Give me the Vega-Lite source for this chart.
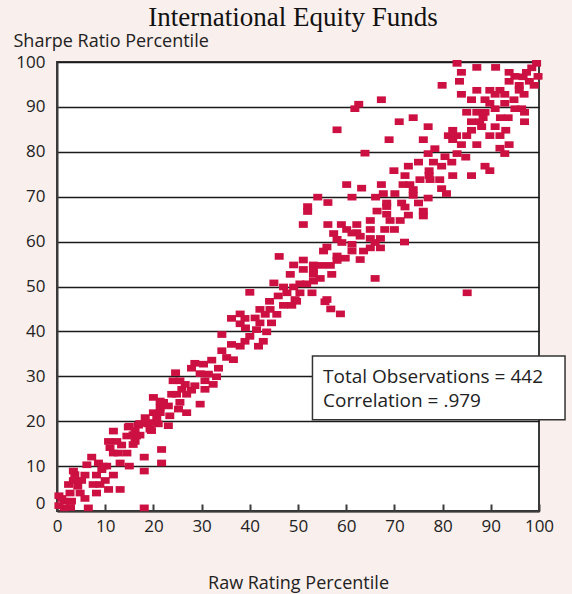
{
 "$schema": "https://vega.github.io/schema/vega-lite/v6.json",
 "width": 482,
 "height": 449,
 "autosize": {"type": "none"},
 "padding": {"left": 57, "top": 62, "right": 33, "bottom": 83},
 "background": "#f9efec",
 "config": {"view": {"fill": "white", "stroke": "#3a3a3a", "strokeWidth": 2}, "font": "Open Sans"},
 "title": {"text": "International Equity Funds", "font": "Liberation Serif", "fontSize": 27, "fontWeight": "normal", "color": "#111", "anchor": "middle", "frame": "group", "dx": -5, "dy": 32, "baseline": "alphabetic", "offset": 11},
 "datasets": {
  "funds": [
   {"raw":1.5,"sharpe":0.7},{"raw":1.5,"sharpe":2.2},{"raw":1.0,"sharpe":2.8},{"raw":3.0,"sharpe":2.2},{"raw":6.5,"sharpe":0.7},{"raw":18.1,"sharpe":0.7},{"raw":5.8,"sharpe":2.8},{"raw":2.7,"sharpe":4.0},{"raw":4.8,"sharpe":4.0},{"raw":8.2,"sharpe":4.0},{"raw":10.7,"sharpe":4.8},{"raw":13.1,"sharpe":4.8},{"raw":4.3,"sharpe":5.5},{"raw":2.4,"sharpe":5.9},{"raw":7.5,"sharpe":5.9},{"raw":8.9,"sharpe":5.9},{"raw":10.0,"sharpe":6.8},{"raw":3.4,"sharpe":6.8},{"raw":5.1,"sharpe":6.8},{"raw":3.7,"sharpe":8.1},{"raw":5.8,"sharpe":8.0},{"raw":8.2,"sharpe":8.0},{"raw":11.7,"sharpe":8.0},{"raw":3.4,"sharpe":8.9},{"raw":9.3,"sharpe":9.2},{"raw":9.6,"sharpe":10.0},{"raw":6.2,"sharpe":10.3},{"raw":8.6,"sharpe":10.7},{"raw":10.3,"sharpe":10.0},{"raw":7.2,"sharpe":12.0},{"raw":13.1,"sharpe":10.7},{"raw":15.0,"sharpe":10.0},{"raw":18.1,"sharpe":8.9},{"raw":18.1,"sharpe":12.0},{"raw":21.7,"sharpe":10.7},{"raw":21.7,"sharpe":13.7},{"raw":11.7,"sharpe":12.9},{"raw":12.7,"sharpe":12.9},{"raw":14.5,"sharpe":12.9},{"raw":11.0,"sharpe":14.1},{"raw":13.4,"sharpe":14.7},{"raw":15.8,"sharpe":14.8},{"raw":10.7,"sharpe":15.5},{"raw":12.4,"sharpe":15.5},{"raw":14.5,"sharpe":16.7},{"raw":16.2,"sharpe":15.5},{"raw":11.7,"sharpe":17.8},{"raw":15.8,"sharpe":17.0},{"raw":17.2,"sharpe":16.9},{"raw":15.0,"sharpe":18.9},{"raw":16.9,"sharpe":19.1},{"raw":18.9,"sharpe":19.4},{"raw":19.6,"sharpe":17.9},{"raw":21.0,"sharpe":19.4},{"raw":0.4,"sharpe":1.2},{"raw":0.4,"sharpe":3.4},{"raw":2.8,"sharpe":0.8},
   {"raw":16.5,"sharpe":16.7},{"raw":14.8,"sharpe":18.7},{"raw":17.2,"sharpe":19.5},{"raw":16.2,"sharpe":17.9},{"raw":19.3,"sharpe":18.2},{"raw":19.6,"sharpe":19.7},{"raw":18.3,"sharpe":20.8},{"raw":20.7,"sharpe":20.8},{"raw":23.1,"sharpe":19.0},{"raw":20.0,"sharpe":21.9},{"raw":21.4,"sharpe":21.9},{"raw":23.4,"sharpe":21.2},{"raw":25.2,"sharpe":22.7},{"raw":26.9,"sharpe":21.9},{"raw":21.4,"sharpe":23.1},{"raw":23.1,"sharpe":23.4},{"raw":20.0,"sharpe":25.3},{"raw":21.4,"sharpe":24.5},{"raw":22.1,"sharpe":24.2},{"raw":25.5,"sharpe":24.2},{"raw":29.7,"sharpe":23.8},{"raw":23.8,"sharpe":26.0},{"raw":24.8,"sharpe":26.0},{"raw":26.9,"sharpe":26.0},{"raw":25.9,"sharpe":27.1},{"raw":27.9,"sharpe":26.9},{"raw":26.6,"sharpe":28.2},{"raw":28.6,"sharpe":27.9},{"raw":24.1,"sharpe":29.0},{"raw":25.5,"sharpe":29.0},{"raw":24.6,"sharpe":30.8},{"raw":30.7,"sharpe":27.1},{"raw":30.7,"sharpe":29.0},{"raw":32.4,"sharpe":28.2},{"raw":29.7,"sharpe":30.6},{"raw":31.4,"sharpe":30.5},{"raw":33.1,"sharpe":29.9},{"raw":28.6,"sharpe":32.9},{"raw":30.4,"sharpe":32.7},{"raw":32.1,"sharpe":33.6},{"raw":27.9,"sharpe":31.8},{"raw":33.5,"sharpe":31.8},{"raw":34.2,"sharpe":35.7},{"raw":35.2,"sharpe":34.2},
   {"raw":46.1,"sharpe":56.7},{"raw":45.0,"sharpe":50.8},{"raw":45.9,"sharpe":47.9},{"raw":40.0,"sharpe":48.7},{"raw":44.1,"sharpe":46.7},{"raw":47.0,"sharpe":45.8},{"raw":48.7,"sharpe":45.8},{"raw":49.7,"sharpe":46.7},{"raw":42.1,"sharpe":44.9},{"raw":44.2,"sharpe":44.9},{"raw":45.6,"sharpe":43.8},{"raw":43.2,"sharpe":43.8},{"raw":41.1,"sharpe":43.0},{"raw":38.0,"sharpe":43.9},{"raw":36.2,"sharpe":42.9},{"raw":39.0,"sharpe":42.9},{"raw":38.0,"sharpe":41.7},{"raw":42.1,"sharpe":41.9},{"raw":44.5,"sharpe":41.9},{"raw":39.1,"sharpe":40.8},{"raw":41.4,"sharpe":40.4},{"raw":43.5,"sharpe":39.9},{"raw":34.2,"sharpe":39.3},{"raw":40.0,"sharpe":38.9},{"raw":42.8,"sharpe":37.8},{"raw":39.0,"sharpe":37.8},{"raw":38.0,"sharpe":36.7},{"raw":36.2,"sharpe":37.1},{"raw":41.8,"sharpe":36.7},{"raw":36.6,"sharpe":33.7},
   {"raw":63.9,"sharpe":79.7},{"raw":60.1,"sharpe":72.7},{"raw":63.2,"sharpe":71.9},{"raw":54.1,"sharpe":69.9},{"raw":56.2,"sharpe":68.7},{"raw":61.2,"sharpe":69.9},{"raw":66.1,"sharpe":69.9},{"raw":52.0,"sharpe":67.8},{"raw":52.0,"sharpe":66.7},{"raw":68.4,"sharpe":67.8},{"raw":66.4,"sharpe":66.8},{"raw":68.4,"sharpe":66.1},{"raw":72.2,"sharpe":67.7},{"raw":76.0,"sharpe":66.8},{"raw":76.0,"sharpe":65.7},{"raw":72.9,"sharpe":65.9},{"raw":69.1,"sharpe":64.7},{"raw":71.2,"sharpe":64.7},{"raw":65.0,"sharpe":64.7},{"raw":51.1,"sharpe":63.8},{"raw":56.2,"sharpe":63.8},{"raw":59.0,"sharpe":63.8},{"raw":62.2,"sharpe":63.8},{"raw":57.4,"sharpe":61.8},{"raw":60.1,"sharpe":62.7},{"raw":62.2,"sharpe":62.0},{"raw":61.2,"sharpe":61.9},{"raw":62.9,"sharpe":61.2},{"raw":65.0,"sharpe":62.7},{"raw":68.0,"sharpe":62.7},{"raw":70.0,"sharpe":62.7},{"raw":58.1,"sharpe":60.5},{"raw":59.1,"sharpe":59.8},{"raw":65.0,"sharpe":60.7},{"raw":67.1,"sharpe":60.7},{"raw":66.0,"sharpe":59.8},{"raw":72.1,"sharpe":59.9},{"raw":61.2,"sharpe":59.4},{"raw":56.0,"sharpe":58.8},{"raw":55.3,"sharpe":57.9},{"raw":61.2,"sharpe":57.9},{"raw":63.6,"sharpe":57.9},{"raw":65.0,"sharpe":58.6},{"raw":67.1,"sharpe":58.6},{"raw":58.1,"sharpe":56.8},{"raw":59.8,"sharpe":56.3},{"raw":58.1,"sharpe":55.8},{"raw":62.9,"sharpe":56.0},{"raw":51.1,"sharpe":55.9},{"raw":49.1,"sharpe":54.8},{"raw":53.2,"sharpe":54.8},{"raw":54.9,"sharpe":54.7},{"raw":56.7,"sharpe":54.7},{"raw":51.1,"sharpe":53.8},{"raw":53.2,"sharpe":53.8},{"raw":48.4,"sharpe":52.7},{"raw":57.0,"sharpe":52.7},{"raw":53.2,"sharpe":52.7},{"raw":54.6,"sharpe":51.8},{"raw":66.0,"sharpe":51.8},{"raw":53.2,"sharpe":51.2},{"raw":50.4,"sharpe":50.6},{"raw":51.8,"sharpe":50.6},{"raw":47.0,"sharpe":49.9},{"raw":49.1,"sharpe":49.9},{"raw":47.7,"sharpe":48.6},{"raw":50.4,"sharpe":48.6},{"raw":52.9,"sharpe":48.6},{"raw":49.4,"sharpe":47.1},{"raw":56.0,"sharpe":47.1},
   {"raw":83.0,"sharpe":99.7},{"raw":87.1,"sharpe":98.8},{"raw":91.0,"sharpe":98.8},{"raw":99.5,"sharpe":99.7},{"raw":98.5,"sharpe":98.7},{"raw":83.9,"sharpe":97.7},{"raw":93.8,"sharpe":97.7},{"raw":95.0,"sharpe":96.8},{"raw":97.4,"sharpe":97.7},{"raw":99.8,"sharpe":96.8},{"raw":96.7,"sharpe":96.7},{"raw":83.5,"sharpe":95.7},{"raw":93.8,"sharpe":95.7},{"raw":98.0,"sharpe":95.7},{"raw":79.9,"sharpe":94.8},{"raw":95.9,"sharpe":94.8},{"raw":99.0,"sharpe":94.8},{"raw":87.1,"sharpe":93.7},{"raw":89.8,"sharpe":93.7},{"raw":91.9,"sharpe":93.7},{"raw":95.9,"sharpe":93.7},{"raw":83.9,"sharpe":92.8},{"raw":90.9,"sharpe":92.8},{"raw":92.9,"sharpe":92.8},{"raw":96.9,"sharpe":92.8},{"raw":86.0,"sharpe":91.6},{"raw":88.8,"sharpe":91.6},{"raw":94.8,"sharpe":91.6},{"raw":67.3,"sharpe":91.6},{"raw":89.8,"sharpe":90.8},{"raw":92.9,"sharpe":90.8},{"raw":90.9,"sharpe":89.6},{"raw":95.0,"sharpe":89.6},{"raw":96.4,"sharpe":89.6},{"raw":85.0,"sharpe":88.8},{"raw":87.1,"sharpe":88.8},{"raw":88.8,"sharpe":88.8},{"raw":97.0,"sharpe":88.8},{"raw":73.9,"sharpe":87.6},{"raw":71.0,"sharpe":86.7},{"raw":88.4,"sharpe":87.6},{"raw":92.0,"sharpe":87.6},{"raw":93.6,"sharpe":87.6},{"raw":86.0,"sharpe":86.7},{"raw":87.7,"sharpe":86.7},{"raw":97.0,"sharpe":86.7},{"raw":77.0,"sharpe":85.6},{"raw":88.1,"sharpe":85.6},{"raw":90.9,"sharpe":85.6},{"raw":82.1,"sharpe":84.8},{"raw":86.0,"sharpe":84.8},{"raw":93.1,"sharpe":84.8},{"raw":81.2,"sharpe":83.6},{"raw":82.9,"sharpe":83.6},{"raw":85.0,"sharpe":83.6},{"raw":89.8,"sharpe":83.6},{"raw":91.9,"sharpe":83.6},{"raw":68.9,"sharpe":82.7},{"raw":76.0,"sharpe":82.7},{"raw":82.1,"sharpe":82.7},{"raw":83.9,"sharpe":81.6},{"raw":87.1,"sharpe":81.6},{"raw":93.8,"sharpe":81.6},{"raw":91.9,"sharpe":80.8},{"raw":78.4,"sharpe":80.7},{"raw":77.0,"sharpe":79.6},{"raw":83.0,"sharpe":79.6},{"raw":92.9,"sharpe":79.6},{"raw":80.5,"sharpe":78.9},{"raw":84.8,"sharpe":78.8},{"raw":75.0,"sharpe":77.7},{"raw":78.1,"sharpe":77.7},{"raw":81.9,"sharpe":77.7},{"raw":72.9,"sharpe":76.8},{"raw":79.8,"sharpe":76.8},{"raw":88.8,"sharpe":76.8},{"raw":89.8,"sharpe":75.8},{"raw":69.9,"sharpe":75.8},{"raw":77.2,"sharpe":75.8},{"raw":72.2,"sharpe":74.7},{"raw":77.2,"sharpe":74.7},{"raw":82.1,"sharpe":74.7},{"raw":86.0,"sharpe":74.7},{"raw":75.3,"sharpe":73.8},{"raw":77.4,"sharpe":73.8},{"raw":79.4,"sharpe":73.8},{"raw":67.3,"sharpe":72.7},{"raw":71.8,"sharpe":72.7},{"raw":73.2,"sharpe":72.7},{"raw":79.8,"sharpe":71.8},{"raw":67.7,"sharpe":70.7},{"raw":70.1,"sharpe":70.7},{"raw":73.9,"sharpe":71.6},{"raw":73.9,"sharpe":70.3},{"raw":80.8,"sharpe":70.7},{"raw":77.0,"sharpe":69.7},{"raw":68.4,"sharpe":68.6},{"raw":71.5,"sharpe":68.6},{"raw":75.0,"sharpe":68.6},
   {"raw":85.1,"sharpe":48.6},{"raw":55.6,"sharpe":46.6},{"raw":56.8,"sharpe":45.0},{"raw":58.8,"sharpe":43.9},{"raw":58.1,"sharpe":84.9},{"raw":61.8,"sharpe":89.6},{"raw":62.6,"sharpe":90.6}
  ],
  "box": [{"x1": 53.0, "x2": 105.4, "y1": 34.5, "y2": 20.3}],
  "notes": [
   {"x": 55.2, "y": 29.8, "label": "Total Observations = 442"},
   {"x": 55.2, "y": 24.5, "label": "Correlation = .979"}
  ]
 },
 "layer": [
  {
   "data": {"name": "funds"},
   "mark": {"type": "point", "shape": "M-1,-0.74H1V0.74H-1Z", "size": 81, "filled": true, "color": "#cc1042", "opacity": 1, "strokeWidth": 0},
   "encoding": {
    "x": {"field": "raw", "type": "quantitative", "scale": {"domain": [0, 100], "nice": false, "zero": false},
     "axis": {"values": [0,10,20,30,40,50,60,70,80,90,100], "title": "Raw Rating Percentile", "titleFontSize": 18, "titleFontWeight": "normal", "titleColor": "#222", "titleFont": "Open Sans", "titleY": 77, "titleBaseline": "alphabetic", "labelFontSize": 17, "labelColor": "#222", "labelFont": "Open Sans", "labelFlush": false, "grid": false, "domainColor": "#3a3a3a", "domainWidth": 2, "tickColor": "#3a3a3a", "tickWidth": 2, "tickSize": -7, "labelPadding": 14}},
    "y": {"field": "sharpe", "type": "quantitative", "scale": {"domain": [0, 100], "nice": false, "zero": false},
     "axis": {"values": [0,10,20,30,40,50,60,70,80,90,100], "title": "Sharpe Ratio Percentile", "titleAngle": 0, "titleAlign": "left", "titleX": -44, "titleY": -16, "titleBaseline": "alphabetic", "titleFontSize": 18, "titleFontWeight": "normal", "titleColor": "#222", "titleFont": "Open Sans", "labelFontSize": 17, "labelColor": "#222", "labelFont": "Open Sans", "labelFlush": false, "grid": true, "gridColor": "#1a1a1a", "gridWidth": 1.6, "ticks": false, "domainColor": "#3a3a3a", "domainWidth": 2, "labelPadding": 12, "labelOffset": {"condition": {"test": "datum.value === 0", "value": -8}, "value": 0}}}
   }
  },
  {
   "data": {"name": "box"},
   "mark": {"type": "rect", "fill": "white", "stroke": "#333", "strokeWidth": 1.5, "clip": false},
   "encoding": {
    "x": {"field": "x1", "type": "quantitative"},
    "x2": {"field": "x2"},
    "y": {"field": "y1", "type": "quantitative"},
    "y2": {"field": "y2"}
   }
  },
  {
   "data": {"name": "notes"},
   "mark": {"type": "text", "align": "left", "baseline": "middle", "fontSize": 19, "font": "Open Sans", "color": "#222"},
   "encoding": {
    "x": {"field": "x", "type": "quantitative"},
    "y": {"field": "y", "type": "quantitative"},
    "text": {"field": "label"}
   }
  }
 ]
}
